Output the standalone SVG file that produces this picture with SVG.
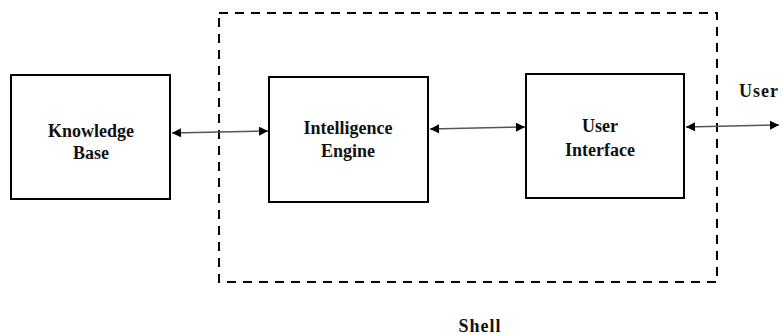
<svg xmlns="http://www.w3.org/2000/svg" width="782" height="335" viewBox="0 0 782 335">
<style>
.box{fill:#fff;stroke:#000;stroke-width:2}
text{font-family:"Liberation Serif","Times New Roman","DejaVu Serif",serif;font-weight:700;font-size:18px;fill:#111;text-anchor:middle}
.conn{stroke:#555;stroke-width:1.5;fill:none}
.shell{fill:none;stroke:#000;stroke-width:2;stroke-dasharray:9 7}
</style>
<defs>
<marker id="ah" viewBox="0 0 10 10" refX="10" refY="5" markerWidth="10" markerHeight="9" markerUnits="userSpaceOnUse" orient="auto-start-reverse">
<path d="M0,0 L10,5 L0,10 z" fill="#000"/>
</marker>
</defs>
<rect width="782" height="335" fill="#fff"/>
<g id="shell">
<rect class="shell" x="219" y="13" width="498" height="269"/>
<text x="480" y="332" letter-spacing="1">Shell</text>
</g>
<g id="knowledge-base">
<rect class="box" x="11" y="75" width="159" height="124"/>
<text x="91" y="137">Knowledge</text>
<text x="91" y="159">Base</text>
</g>
<g id="intelligence-engine">
<rect class="box" x="269" y="77" width="159" height="125"/>
<text x="348" y="134">Intelligence</text>
<text x="348" y="157">Engine</text>
</g>
<g id="user-interface">
<rect class="box" x="526" y="74" width="158" height="124"/>
<text x="600" y="132">User</text>
<text x="600" y="156">Interface</text>
</g>
<g id="user">
<text x="759" y="97" letter-spacing="1">User</text>
</g>
<g id="connectors">
<line class="conn" x1="172" y1="133" x2="268" y2="131" marker-start="url(#ah)" marker-end="url(#ah)"/>
<line class="conn" x1="430" y1="129" x2="525" y2="127" marker-start="url(#ah)" marker-end="url(#ah)"/>
<line class="conn" x1="686" y1="127" x2="779" y2="125" marker-start="url(#ah)" marker-end="url(#ah)"/>
</g>
</svg>
